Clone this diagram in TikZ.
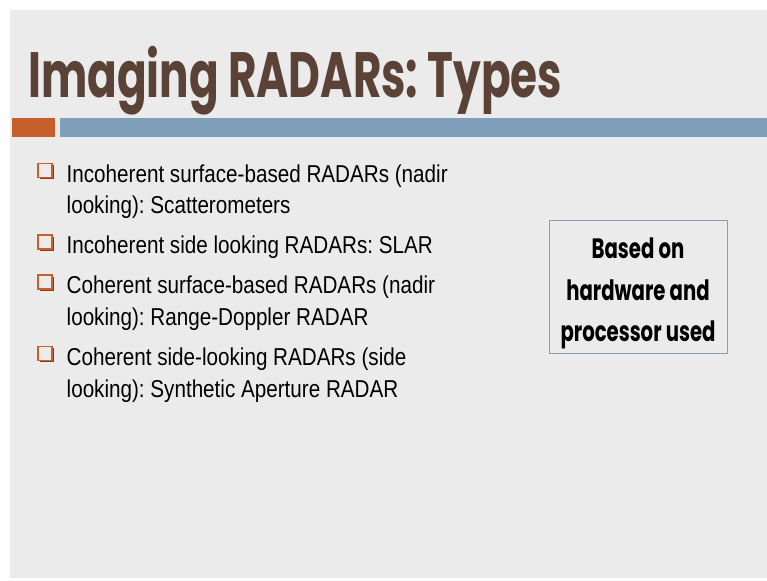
\documentclass[tikz,border=0pt]{standalone}
\usepackage{fontspec}
\setmainfont{Liberation Sans}
\newfontfamily\titlefont{Poppins}
\usetikzlibrary{shadows}
\definecolor{slidebg}{HTML}{EBEBEB}
\definecolor{titlebrown}{HTML}{5B4237}
\definecolor{barorange}{HTML}{C5602C}
\definecolor{barblue}{HTML}{7F9FBA}
\definecolor{bulorange}{HTML}{C8602C}
\definecolor{bulshadow}{HTML}{8E3C18}
\definecolor{boxborder}{HTML}{8C9CB2}
\newlength\titlelen
\newlength\bodylen
\newlength\boxlen
\newcommand\tfont{\titlefont\bfseries\fontsize{64}{64}\selectfont}
\newcommand\bfnt{\fontsize{24.4}{24.4}\selectfont}
\newcommand\xfont{\titlefont\bfseries\fontsize{28}{28}\selectfont}
\frenchspacing
\begin{document}
\settowidth\titlelen{\tfont Imaging RADARs: Types}%
\settowidth\bodylen{\bfnt Incoherent surface-based RADARs (nadir}%
\settowidth\boxlen{\xfont processor used}%
\pgfmathsetmacro\tsx{534/\titlelen}%
\pgfmathsetmacro\bsx{381/\bodylen}%
\pgfmathsetmacro\xsx{155/\boxlen}%
\newcommand\bl[1]{\scalebox{\bsx}[1]{#1}}%
\begin{tikzpicture}[x=1pt,y=-1pt,
  bodytext/.style={anchor=base west, inner sep=0pt, text=black, font=\bfnt},
  bulletbox/.style={draw=bulorange, fill=slidebg, line width=1.7pt, minimum size=14pt, inner sep=0pt,
     drop shadow={opacity=1, fill=bulshadow, shadow xshift=1.5pt, shadow yshift=-1.5pt}},
  boxtext/.style={anchor=base, inner sep=0pt, text=black, font=\xfont}]
\useasboundingbox (0,0) rectangle (767,580);
\fill[white] (0,0) rectangle (767,580);
\fill[slidebg] (10,10) rectangle (767,578);
\fill[barorange] (12,118) rectangle (55,137);
\fill[barblue] (60,118) rectangle (767,137);
% title
\node[anchor=base west, inner sep=0pt, text=titlebrown, font=\tfont] (title) at (28,98)
  {\scalebox{\tsx}[1]{Imaging RADARs: Types}};
% bullets
\node[bulletbox] (b1) at (45,170.5) {};
\node[bodytext] (l1) at (66.5,182) {\bl{Incoherent surface-based RADARs (nadir}};
\node[bodytext] (l2) at (66.5,213.5) {\bl{looking): Scatterometers}};
\node[bulletbox] (b2) at (45,242) {};
\node[bodytext] (l3) at (66.5,253.5) {\bl{Incoherent side looking RADARs: SLAR}};
\node[bulletbox] (b3) at (45,282) {};
\node[bodytext] (l4) at (66.5,293.5) {\bl{Coherent surface-based RADARs (nadir}};
\node[bodytext] (l5) at (66.5,325) {\bl{looking): Range-Doppler RADAR}};
\node[bulletbox] (b4) at (45,353.5) {};
\node[bodytext] (l6) at (66.5,365) {\bl{Coherent side-looking RADARs (side}};
\node[bodytext] (l7) at (66.5,397) {\bl{looking): Synthetic Aperture RADAR}};
% box
\node[draw=boxborder, line width=0.9pt, minimum width=178pt, minimum height=133pt, inner sep=0pt] (box) at (638,286.5) {};
\node[boxtext] (t1) at (638,258) {\scalebox{\xsx}[1]{Based on}};
\node[boxtext] (t2) at (638,300) {\scalebox{\xsx}[1]{hardware and}};
\node[boxtext] (t3) at (638,341) {\scalebox{\xsx}[1]{processor used}};
\end{tikzpicture}
\end{document}
